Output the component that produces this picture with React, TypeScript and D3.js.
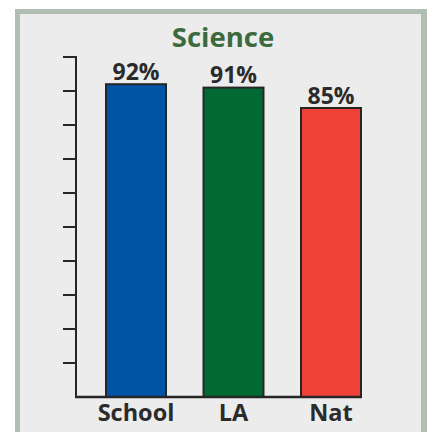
import React from "react";
import * as d3 from "d3";

const categories = ["School", "LA", "Nat"];
const values = [92, 91, 85];
const valueLabels = ["92%", "91%", "85%"];
const barColors = ["#0054a6", "#006a32", "#ef4136"];
const tickValues = [10, 20, 30, 40, 50, 60, 70, 80, 90, 100];
const title = "Science";

const W = 427;
const H = 432;
const FONT = "'Open Sans', 'Noto Sans', sans-serif";
const INK = "#262626";

export default function App() {
  const y = d3.scaleLinear().domain([0, 100]).range([397, 57]);
  const x = d3.scalePoint<string>().domain(categories).range([136, 331]);
  const barW = 60;
  const axisX = 76;
  const baseY = y(0);
  const lastRight = (x(categories[categories.length - 1]) as number) + barW / 2;

  return (
    <svg
      width={W}
      height={H}
      style={{ position: "absolute", left: 0, top: 0, display: "block" }}
      fontFamily={FONT}
    >
      <rect x={0} y={0} width={W} height={H} fill="#ffffff" />
      <rect x={15} y={9} width={412} height={H} fill="#b1beb4" />
      <rect x={20} y={14} width={401} height={H} fill="#ebeceb" />
      <text
        x={223}
        y={47}
        textAnchor="middle"
        fontSize={27.5}
        fontWeight={700}
        fill="#3b6a3f"
      >
        {title}
      </text>
      {/* y axis */}
      <line x1={axisX} x2={axisX} y1={y(100) - 1} y2={baseY + 1} stroke={INK} strokeWidth={2} />
      {tickValues.map((t) => (
        <line key={t} x1={63} x2={axisX} y1={y(t)} y2={y(t)} stroke={INK} strokeWidth={2} />
      ))}
      {/* bars */}
      {categories.map((c, i) => {
        const cx = x(c) as number;
        return (
          <g key={c}>
            <rect
              x={cx - barW / 2}
              y={y(values[i])}
              width={barW}
              height={baseY - y(values[i])}
              fill={barColors[i]}
              stroke={INK}
              strokeWidth={2}
            />
            <text
              x={cx}
              y={y(values[i]) - 4.5}
              textAnchor="middle"
              fontSize={23}
              fontWeight={700}
              fill="#2b2b2b"
            >
              {valueLabels[i]}
            </text>
            <text
              x={cx}
              y={421}
              textAnchor="middle"
              fontSize={23.5}
              fontWeight={700}
              fill="#2b2b2b"
            >
              {c}
            </text>
          </g>
        );
      })}
      {/* baseline */}
      <line x1={axisX - 1} x2={lastRight + 1} y1={baseY} y2={baseY} stroke={INK} strokeWidth={2.5} />
    </svg>
  );
}
